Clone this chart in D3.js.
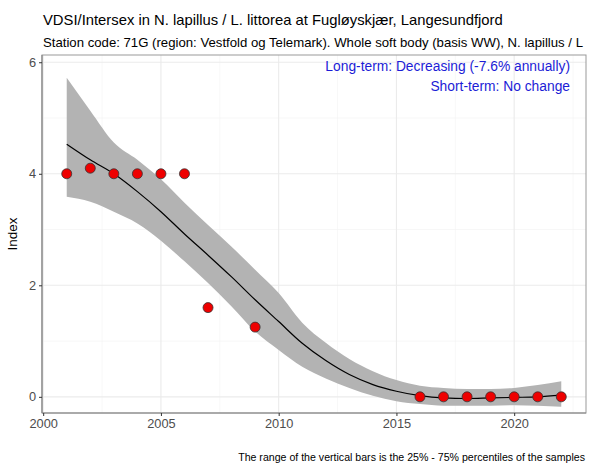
<!DOCTYPE html>
<html><head><meta charset="utf-8">
<script src="https://cdn.jsdelivr.net/npm/d3@7"></script>
<style>body{margin:0;background:#fff}svg{display:block;font-family:"Liberation Sans",Arial,sans-serif}</style>
</head><body><svg id="c" width="591" height="464"></svg>
<script>
const title = "VDSI/Intersex in N. lapillus / L. littorea at Fugløyskjær, Langesundfjord";
const subtitle = "Station code: 71G (region: Vestfold og Telemark). Whole soft body (basis WW), N. lapillus / L";
const trendLong = "Long-term: Decreasing (-7.6% annually)";
const trendShort = "Short-term: No change";
const caption = "The range of the vertical bars is the 25% - 75% percentiles of the samples";
const yLabel = "Index";

const years = [2001,2002,2003,2004,2005,2006,2007,2009,2016,2017,2018,2019,2020,2021,2022];
const values = [4,4.1,4,4,4,4,1.6,1.25,0,0,0,0,0,0,0];

const smoothYears = [2001,2002,2003,2004,2005,2006,2007,2008,2009,2010,2011,2012,2013,2014,2015,2016,2017,2018,2019,2020,2021,2022];
const smoothFit =   [4.53,4.25,4.0,3.68,3.32,2.92,2.54,2.15,1.74,1.35,0.96,0.65,0.40,0.22,0.10,0.02,-0.02,-0.03,-0.02,-0.01,0.0,0.03];
const smoothLo =    [3.59,3.50,3.32,3.11,2.80,2.43,2.04,1.62,1.17,0.84,0.54,0.33,0.16,0.02,-0.08,-0.13,-0.16,-0.16,-0.16,-0.15,-0.16,-0.18];
const smoothHi =    [5.72,5.13,4.56,4.25,3.90,3.48,3.08,2.69,2.28,1.86,1.33,0.97,0.68,0.46,0.30,0.20,0.16,0.14,0.14,0.16,0.21,0.28];

const xTicks = [2000,2005,2010,2015,2020];
const xMinor = [2002.5,2007.5,2012.5,2017.5,2022.5];
const yTicks = [0,2,4,6];
const yMinor = [1,3,5];

const svg = d3.select("#c");
const L = 42, R = 586, T = 55, B = 413;
const x = d3.scaleLinear().domain([1999.95, 2023.05]).range([L, R]);
const y = d3.scaleLinear().domain([-0.29, 6.13]).range([B, T]);

const g = svg.append("g");
// grid
g.selectAll(".ym").data(yMinor).join("line").attr("x1",L).attr("x2",R).attr("y1",d=>y(d)).attr("y2",d=>y(d)).attr("stroke","#f2f2f2").attr("stroke-width",0.6);
g.selectAll(".xm").data(xMinor).join("line").attr("y1",T).attr("y2",B).attr("x1",d=>x(d)).attr("x2",d=>x(d)).attr("stroke","#f2f2f2").attr("stroke-width",0.6);
g.selectAll(".yM").data(yTicks).join("line").attr("x1",L).attr("x2",R).attr("y1",d=>y(d)).attr("y2",d=>y(d)).attr("stroke","#ebebeb").attr("stroke-width",1.1);
g.selectAll(".xM").data(xTicks).join("line").attr("y1",T).attr("y2",B).attr("x1",d=>x(d)).attr("x2",d=>x(d)).attr("stroke","#ebebeb").attr("stroke-width",1.1);

// band
const sm = smoothYears.map((yr,i)=>({yr, f:smoothFit[i], lo:smoothLo[i], hi:smoothHi[i]}));
g.append("path").datum(sm)
 .attr("d", d3.area().x(d=>x(d.yr)).y0(d=>y(d.lo)).y1(d=>y(d.hi)).curve(d3.curveMonotoneX))
 .attr("fill","#b3b3b3");
g.append("path").datum(sm)
 .attr("d", d3.line().x(d=>x(d.yr)).y(d=>y(d.f)).curve(d3.curveMonotoneX))
 .attr("fill","none").attr("stroke","#000").attr("stroke-width",1.2);

// points
g.selectAll(".pt").data(years.map((yr,i)=>({yr,v:values[i]}))).join("circle")
 .attr("cx",d=>x(d.yr)).attr("cy",d=>y(d.v)).attr("r",5)
 .attr("fill","#ee0000").attr("stroke","#333").attr("stroke-width",0.8);

// border
g.append("rect").attr("x",L).attr("y",T).attr("width",R-L).attr("height",B-T)
 .attr("fill","none").attr("stroke","#999").attr("stroke-width",1);
g.append("line").attr("x1",L).attr("x2",L).attr("y1",T).attr("y2",B).attr("stroke","#888").attr("stroke-width",1.2);
g.append("line").attr("x1",L).attr("x2",R).attr("y1",B).attr("y2",B).attr("stroke","#888").attr("stroke-width",1.2);

// axes
const xa = svg.append("g").attr("transform",`translate(0,${B})`)
 .call(d3.axisBottom(x).tickValues(xTicks).tickFormat(d3.format("d")).tickSize(3).tickPadding(3));
const ya = svg.append("g").attr("transform",`translate(${L},0)`)
 .call(d3.axisLeft(y).tickValues(yTicks).tickFormat(d3.format("d")).tickSize(3).tickPadding(3));
[xa,ya].forEach(a=>{
  a.select(".domain").remove();
  a.selectAll(".tick line").attr("stroke","#333");
  a.selectAll(".tick text").attr("fill","#4d4d4d").style("font-size","12.8px").style("font-family","Liberation Sans, Arial, sans-serif");
});

svg.append("text").attr("x",17).attr("y",(T+B)/2).attr("transform",`rotate(-90,17,${(T+B)/2})`)
 .attr("text-anchor","middle").style("font-size","13.5px").attr("fill","#000").text(yLabel);

svg.append("text").attr("x",43).attr("y",25).style("font-size","14.8px").attr("fill","#000").text(title);
svg.append("text").attr("x",43).attr("y",47).style("font-size","13.4px").attr("fill","#000").text(subtitle)
 .attr("textLength",540).attr("lengthAdjust","spacingAndGlyphs");

svg.append("text").attr("x",570).attr("y",71).attr("text-anchor","end").style("font-size","13.8px").attr("fill","#1c1cd6").text(trendLong);
svg.append("text").attr("x",570).attr("y",91).attr("text-anchor","end").style("font-size","13.8px").attr("fill","#1c1cd6").text(trendShort);

svg.append("text").attr("x",585).attr("y",461).attr("text-anchor","end").style("font-size","10.6px").attr("fill","#000").text(caption);
</script></body></html>
